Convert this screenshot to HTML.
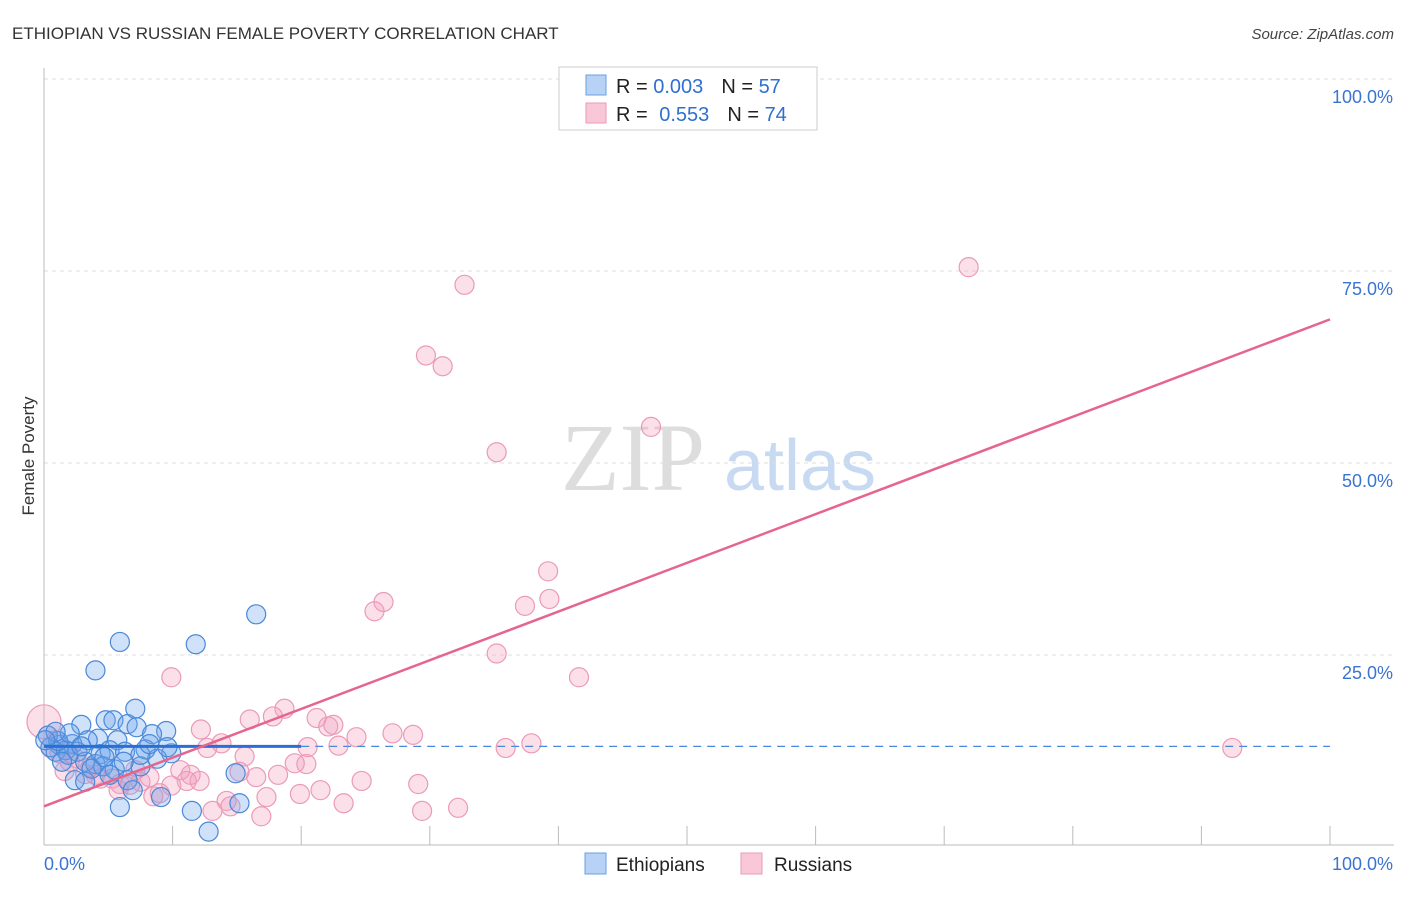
<!DOCTYPE html>
<html><head><meta charset="utf-8"><style>
body{margin:0;background:#fff;font-family:"Liberation Sans",sans-serif}
</style></head><body>
<svg id="c" width="1406" height="892" xmlns="http://www.w3.org/2000/svg" style="font-family:'Liberation Sans',sans-serif">
<text x="12" y="39" font-size="17" fill="#333">ETHIOPIAN VS RUSSIAN FEMALE POVERTY CORRELATION CHART</text>
<text x="1394" y="39" font-size="15" fill="#444" font-style="italic" text-anchor="end">Source: ZipAtlas.com</text>
<text transform="translate(34,456) rotate(-90)" font-size="17" fill="#333" text-anchor="middle">Female Poverty</text>
<g><text x="633" y="490" font-size="96" fill="#ddd" font-family="Liberation Serif,serif" text-anchor="middle">ZIP</text><text x="800" y="490" font-size="72" fill="#c8daf2" text-anchor="middle">atlas</text></g>
<g id="grid"></g><g id="marks"></g>
<g>
<rect x="559" y="67" width="258" height="63" fill="#fff" stroke="#ccc"/>
<rect x="586" y="75" width="20" height="20" fill="#b7d2f5" stroke="#6a9fe0"/>
<rect x="586" y="103" width="20" height="20" fill="#f9c8d8" stroke="#eb9ab8"/>
<text x="616" y="93" font-size="20" fill="#222">R = <tspan fill="#2f6fd0">0.003</tspan><tspan dx="18">N = </tspan><tspan fill="#2f6fd0">57</tspan></text>
<text x="616" y="121" font-size="20" fill="#222">R = <tspan fill="#2f6fd0" dx="6">0.553</tspan><tspan dx="18">N = </tspan><tspan fill="#2f6fd0">74</tspan></text>
</g>
<g>
<rect x="585" y="853" width="21" height="21" fill="#b7d2f5" stroke="#6a9fe0"/>
<text x="616" y="871" font-size="19" fill="#222">Ethiopians</text>
<rect x="741" y="853" width="21" height="21" fill="#f9c8d8" stroke="#eb9ab8"/>
<text x="774" y="871" font-size="19" fill="#222">Russians</text>
</g>
</svg>
<script>
const yTicks=[25,50,75,100];
const yTickLabels=["25.0%","50.0%","75.0%","100.0%"];
const xTicks=[0,10,20,30,40,50,60,70,80,90,100];
const ethX=[5.9,11.8,16.5,4.0,2.9,4.8,5.4,6.5,7.1,7.2,9.5,5.7,8.4,7.9,9.9,8.8,4.2,3.4,2.2,1.2,0.5,0.9,1.7,2.6,4.4,5.1,6.3,3.2,4.0,4.6,5.5,2.4,3.2,5.1,6.5,6.9,5.9,9.1,11.5,12.8,14.9,15.2,7.5,1.9,1.1,0.3,1.4,3.7,4.7,7.5,9.6,8.2,6.2,2.0,2.9,0.9,0.1];
const ethY=[26.7,26.4,30.3,23.0,15.9,16.5,16.5,16.0,18.0,15.6,15.1,13.9,14.7,12.7,12.2,11.5,14.1,13.9,13.4,13.3,13.0,12.4,12.6,12.4,12.1,12.6,12.4,11.1,10.8,10.5,10.1,8.7,8.5,9.4,8.7,7.4,5.2,6.5,4.7,2.0,9.6,5.7,10.5,12.0,13.8,14.5,11.1,10.2,11.7,12.0,13.0,13.4,11.1,14.8,13.1,15.0,13.9];
const rusX=[71.9,32.7,29.7,31.0,47.2,35.2,39.2,26.4,25.7,37.4,39.3,35.2,41.6,9.9,92.4,18.7,12.2,16.0,17.8,21.2,22.1,22.5,27.1,24.3,28.7,35.9,37.9,20.5,22.9,12.7,13.8,15.6,11.4,20.4,11.1,12.1,15.2,16.5,18.2,24.7,29.1,9.9,8.5,7.5,5.3,5.9,4.0,3.2,1.6,21.5,19.9,17.3,14.2,14.5,13.1,16.9,23.3,29.4,32.2,9.0,6.7,5.8,4.4,2.4,1.2,0.5,0.9,0.0,2.0,3.6,8.2,7.1,10.6,19.5];
const rusY=[75.5,73.2,64.0,62.6,54.7,51.4,35.9,31.9,30.7,31.4,32.3,25.2,22.1,22.1,12.9,18.0,15.3,16.6,17.0,16.8,15.7,15.9,14.8,14.3,14.6,12.9,13.5,13.0,13.2,12.9,13.5,11.8,9.4,10.8,8.6,8.6,9.8,9.1,9.4,8.6,8.2,8.0,6.6,8.5,8.9,8.2,9.4,9.5,9.9,7.4,6.9,6.5,6.0,5.3,4.7,4.0,5.7,4.7,5.1,7.0,8.1,7.4,8.9,11.6,12.2,12.9,13.9,16.3,11.1,10.4,9.1,10.0,10.0,10.9];
const ethTrend=[13.1,13.1]; const rusTrend=[5.3,68.7];
const NS="http://www.w3.org/2000/svg";
const X0=44,X1=1330,Y0=847,Y1=79;
const sx=v=>X0+(X1-X0)*v/100, sy=v=>Y0-(Y0-Y1)*v/100;
function mk(t,a,p){const e=document.createElementNS(NS,t);for(const k in a)e.setAttribute(k,a[k]);p.appendChild(e);return e;}
const g=document.getElementById('grid'),m=document.getElementById('marks');
yTicks.forEach((v,i)=>{
 const l=mk('line',{x1:X0,x2:1394,y1:sy(v),y2:sy(v),stroke:'#ddd','stroke-dasharray':'4,4'},g);
 
 const t=mk('text',{x:1393,y:sy(v)+24,'font-size':18,fill:'#3b73d1','text-anchor':'end'},g);t.textContent=yTickLabels[i];
 
});
const ax=mk('line',{x1:X0,x2:X0,y1:68,y2:845,stroke:'#bbb'},g);
const bx=mk('line',{x1:X0,x2:1394,y1:845,y2:845,stroke:'#bbb'},g);
xTicks.forEach(v=>{const l=mk('line',{x1:sx(v),x2:sx(v),y1:826,y2:845,stroke:'#bbb'},g);});
[[0,'0.0%','start',44],[100,'100.0%','end',1393]].forEach(a=>{const t=mk('text',{x:a[3],y:870,'font-size':18,fill:'#3b73d1','text-anchor':a[2]},g);t.textContent=a[1];});
rusX.forEach((x,i)=>{const c=mk('circle',{cx:sx(x),cy:sy(rusY[i]),r:(i==67?17:9.5),fill:'rgba(244,160,190,0.32)',stroke:'#eb9ab8','stroke-width':1.2},m);
 });
ethX.forEach((x,i)=>{const c=mk('circle',{cx:sx(x),cy:sy(ethY[i]),r:9.5,fill:'rgba(110,165,235,0.32)',stroke:'#4a88d8','stroke-width':1.2},m);
 });
const e1=mk('line',{x1:sx(0),x2:sx(20),y1:sy(ethTrend[0]),y2:sy(ethTrend[0]+(ethTrend[1]-ethTrend[0])*0.2),stroke:'#2a6fd6','stroke-width':3},m);

const e2=mk('line',{x1:sx(20),x2:sx(100),y1:sy(ethTrend[0]+(ethTrend[1]-ethTrend[0])*0.2),y2:sy(ethTrend[1]),stroke:'#4a88d8','stroke-width':1.2,'stroke-dasharray':'8,6'},m);

const r1=mk('line',{x1:sx(0),x2:sx(100),y1:sy(rusTrend[0]),y2:sy(rusTrend[1]),stroke:'#e5658f','stroke-width':2.5},m);

</script>
</body></html>
